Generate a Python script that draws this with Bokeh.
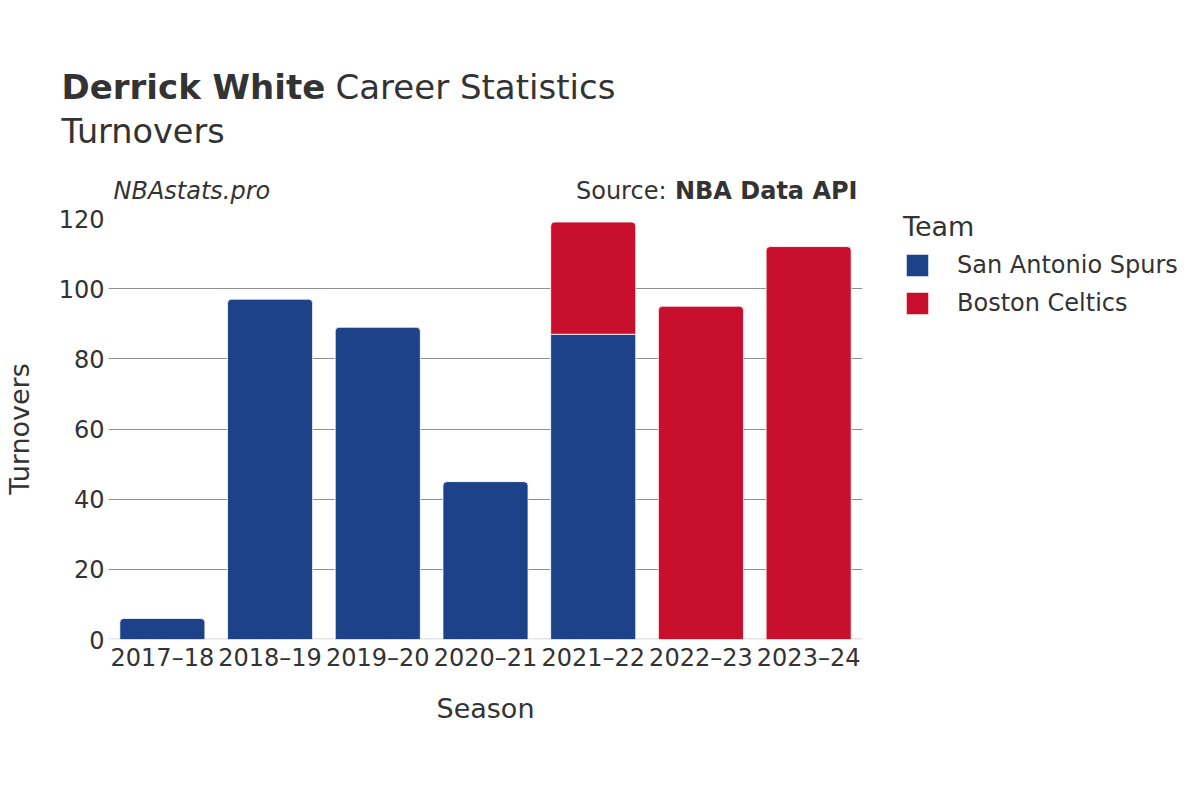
from bokeh.plotting import figure
from bokeh.layouts import column
from bokeh.models import ColumnDataSource, Label, Legend, LegendItem, Span, FactorRange, FixedTicker, Range1d
from bokeh.embed import file_html
from bokeh.resources import INLINE

# ---- data ----
seasons = ["2017–18", "2018–19", "2019–20", "2020–21", "2021–22", "2022–23", "2023–24"]
spurs = [6, 97, 89, 45, 87, 0, 0]
celtics = [0, 0, 0, 0, 32, 95, 112]
teams = ["San Antonio Spurs", "Boston Celtics"]
team_colors = ["#1D428A", "#C8102E"]
y_ticks = [0, 20, 40, 60, 80, 100, 120]

FONT = "DejaVu Sans"
TXT = "#333333"
W = 1190
HEAD_H = 204

# ---------------- header (titles) ----------------
head = figure(frame_width=W, frame_height=HEAD_H, x_range=Range1d(0, W), y_range=Range1d(HEAD_H, 0),
              x_axis_type=None, y_axis_type=None, min_border=0,
              min_border_left=0, min_border_right=0, min_border_top=0, min_border_bottom=0,
              output_backend="svg", toolbar_location=None, outline_line_color=None,
              background_fill_color="white", border_fill_color="white")
head.grid.visible = False
head.frame_align = False

def lab(text, x, y, size, style="normal", align="left"):
    head.add_layout(Label(x=x, y=y, text=text,
                          text_font=FONT, text_font_size=size, text_font_style=style,
                          text_color=TXT, text_align=align, text_baseline="alphabetic"))

lab("Derrick White", 61, 86.5, "34px", "bold")
lab("Career Statistics", 335, 86.5, "34px")
lab("Turnovers", 61, 130.5, "33.5px")
lab("NBAstats.pro", 113, 190, "24px", "italic")
lab("Source:", 666, 190, "24px", align="right")
lab("NBA Data API", 857, 190, "24px", "bold", align="right")

# ---------------- main chart ----------------
def segments(values, bases, tops_of_stack):
    rnd = dict(x=[], bottom=[], top=[])
    sq = dict(x=[], bottom=[], top=[])
    for s, v, b, t in zip(seasons, values, bases, tops_of_stack):
        if v <= 0:
            continue
        d = rnd if t else sq
        d["x"].append(s)
        d["bottom"].append(b)
        d["top"].append(b + v)
    return ColumnDataSource(rnd), ColumnDataSource(sq)

spurs_top = [c == 0 for c in celtics]
spurs_rnd, spurs_sq = segments(spurs, [0] * len(seasons), spurs_top)
celt_rnd, celt_sq = segments(celtics, spurs, [True] * len(seasons))

p = figure(
    x_range=FactorRange(*seasons, range_padding=0),
    y_range=(0, 120),
    frame_width=754, frame_height=421,
    min_border_left=108, min_border_top=218 - HEAD_H, min_border_right=W - 862, min_border_bottom=140,
    output_backend="svg", toolbar_location=None,
    background_fill_color="white", border_fill_color="white",
    outline_line_color=None,
)
p.frame_align = False

p.add_layout(Span(location=0, dimension="width", line_color="#e6e6e6", line_width=3, level="underlay"))

renderers = {}
for name, color, (rnd, sq) in zip(teams, team_colors, [(spurs_rnd, spurs_sq), (celt_rnd, celt_sq)]):
    r1 = p.vbar(x="x", bottom="bottom", top="top", width=0.79, source=rnd,
                fill_color=color, line_color="white", line_width=0.8,
                border_radius=(4, 4, 0, 0))
    p.vbar(x="x", bottom="bottom", top="top", width=0.79, source=sq,
           fill_color=color, line_color="white", line_width=0.8)
    renderers[name] = r1

p.yaxis.ticker = FixedTicker(ticks=y_ticks)
for ax in (p.xaxis, p.yaxis):
    ax.axis_line_color = None
    ax.major_tick_line_color = None
    ax.minor_tick_line_color = None
    ax.major_tick_out = 0
    ax.major_tick_in = 0
    ax.minor_tick_out = 0
    ax.major_label_text_font = FONT
    ax.major_label_text_font_size = "24px"
    ax.major_label_text_color = TXT
    ax.axis_label_text_font = FONT
    ax.axis_label_text_font_size = "27px"
    ax.axis_label_text_font_style = "normal"
    ax.axis_label_text_color = TXT
p.xaxis.axis_label = "Season"
p.yaxis.axis_label = "Turnovers"
p.xaxis.major_label_standoff = 4
p.xaxis.axis_label_standoff = 18
p.yaxis.major_label_standoff = 4
p.yaxis.axis_label_standoff = 21

p.xgrid.grid_line_color = None
p.ygrid.grid_line_color = "#8f8f8f"
p.ygrid.grid_line_width = 1

legend = Legend(
    items=[LegendItem(label=t, renderers=[renderers[t]]) for t in teams],
    title="Team",
    title_text_font=FONT, title_text_font_size="27px", title_text_font_style="normal",
    title_text_color=TXT, title_standoff=9,
    location=(41, 322),
    padding=0, margin=0, spacing=10,
    glyph_width=28, glyph_height=28, label_standoff=26,
    label_text_font=FONT, label_text_font_size="24px", label_text_color=TXT,
    border_line_alpha=0, background_fill_alpha=0,
)
p.add_layout(legend, "right")

layout = column(head, p, spacing=0)
open("out.html", "w").write(file_html(layout, INLINE))
